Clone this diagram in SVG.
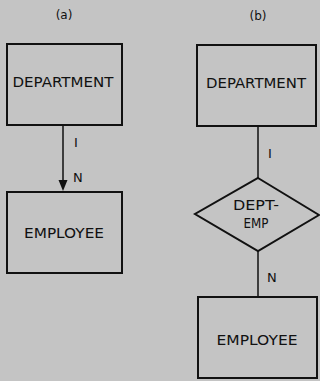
<svg xmlns="http://www.w3.org/2000/svg" width="320" height="381" viewBox="0 0 320 381">
<style>
.bg{fill:#c4c4c4}
.box{fill:none;stroke:#111;stroke-width:2}
.ln{fill:none;stroke:#111;stroke-width:1.5}
text{font-family:"DejaVu Sans","Liberation Sans",sans-serif;font-size:13.5px;fill:#111;text-anchor:middle}
.lbl{text-anchor:start;font-size:13px}
.cap{font-size:12px}
</style>
<rect class="bg" x="0" y="0" width="320" height="381"/>
<text class="cap" x="64" y="19">(a)</text>
<text class="cap" x="258" y="20">(b)</text>
<g id="connectors">
<line class="ln" x1="63" y1="125" x2="63" y2="180"/>
<path d="M58.5,180 L67.5,180 L63,191 Z" fill="#111"/>
<line class="ln" x1="258" y1="126" x2="258" y2="178"/>
<line class="ln" x1="258" y1="251" x2="258" y2="297"/>
<text class="lbl" x="74" y="147">I</text>
<text class="lbl" x="73" y="182">N</text>
<text class="lbl" x="268" y="158">I</text>
<text class="lbl" x="267" y="282">N</text>
</g>
<g id="a-department">
<rect class="box" x="7" y="44" width="115" height="81"/>
<text x="63" y="87" textLength="101" lengthAdjust="spacingAndGlyphs">DEPARTMENT</text>
</g>
<g id="a-employee">
<rect class="box" x="7" y="192" width="115" height="81"/>
<text x="64" y="238" textLength="80" lengthAdjust="spacingAndGlyphs">EMPLOYEE</text>
</g>
<g id="b-department">
<rect class="box" x="197" y="45" width="119" height="81"/>
<text x="256" y="88" textLength="100" lengthAdjust="spacingAndGlyphs">DEPARTMENT</text>
</g>
<g id="b-dept-emp">
<polygon class="box" points="258,178 319,215 258,251 195,214"/>
<text x="256" y="210" textLength="46" lengthAdjust="spacingAndGlyphs">DEPT-</text>
<text x="256" y="228" textLength="25" lengthAdjust="spacingAndGlyphs">EMP</text>
</g>
<g id="b-employee">
<rect class="box" x="198" y="297" width="119" height="81"/>
<text x="257" y="345" textLength="81" lengthAdjust="spacingAndGlyphs">EMPLOYEE</text>
</g>
</svg>
